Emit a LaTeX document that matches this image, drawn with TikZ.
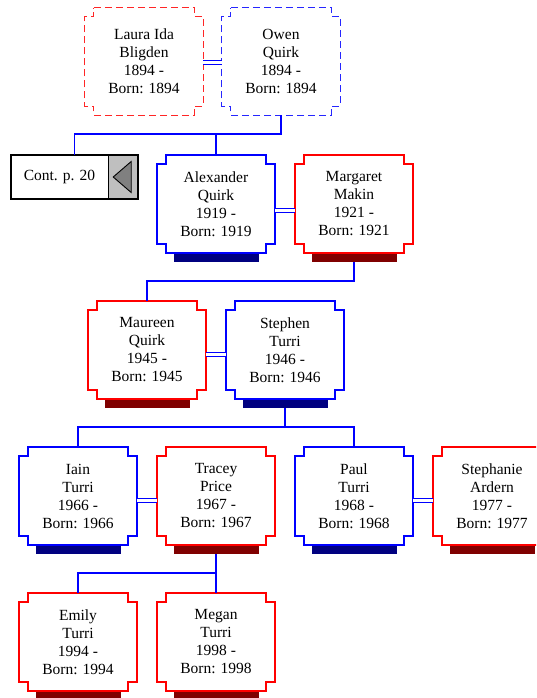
\documentclass[tikz,border=0pt]{standalone}
\usepackage{fontspec}
\setmainfont{Liberation Serif}
\usetikzlibrary{calc}
\definecolor{navybar}{RGB}{0,0,128}
\definecolor{maroonbar}{RGB}{128,0,0}
\tikzset{
  person/.style={rectangle, minimum width=118pt, minimum height=98pt, inner sep=0pt, align=center, font=\fontsize{15.5}{18}\selectfont},
  tallperson/.style={person, minimum height=107pt},
  maleline/.style={draw=blue, line width=1.8pt},
  femaleline/.style={draw=red, line width=1.8pt},
  maledash/.style={draw=blue!85, line width=1.1pt, dash pattern=on 7pt off 4pt},
  femaledash/.style={draw=red!85, line width=1.1pt, dash pattern=on 7pt off 4pt},
  conn/.style={draw=blue, line width=1.6pt},
  marriage/.style={draw=blue, line width=1pt, double=white, double distance=3pt},
}
\newcommand\notchbox[2]{%
  \path[#2] ([xshift=9pt]#1.north west) -- ([xshift=-9pt]#1.north east) -- ++(0,9) -- ++(9,0)
    -- ([yshift=9pt]#1.south east) -- ++(-9,0) -- ++(0,9) -- ([xshift=9pt]#1.south west)
    -- ++(0,-9) -- ++(-9,0) -- ([yshift=-9pt]#1.north west) -- ++(9,0) -- cycle;}
\newcommand\shadowbar[2]{%
  \fill[#2] ([xshift=17pt,yshift=-1pt]#1.south west) rectangle ([xshift=-16pt,yshift=-9pt]#1.south east);}
\begin{document}
\begin{tikzpicture}[x=1pt,y=-1pt]
\useasboundingbox (0,0) rectangle (536,698);
\clip (0,0) rectangle (536,698);

% top couple (dashed)
\node[tallperson] (laura) at (144,61.5) {Laura Ida\\Bligden\\1894 -\\Born: 1894};
\node[tallperson] (owen) at (281,61.5) {Owen\\Quirk\\1894 -\\Born: 1894};
\notchbox{laura}{femaledash}
\notchbox{owen}{maledash}

% continuation box
\node[rectangle, minimum width=127pt, minimum height=44pt, inner sep=0pt, font=\fontsize{15.5}{18}\selectfont] (cont) at (74.5,177) {\makebox[127pt][l]{\makebox[97pt]{Cont. p. 20}}};
\fill[gray!50] ([xshift=-30pt]cont.north east) rectangle (cont.south east);
\draw[black, line width=0.8pt] ([xshift=-30pt]cont.north east) -- ([xshift=-30pt]cont.south east);
\filldraw[fill=gray, draw=black, line width=0.9pt] ([xshift=-25pt]cont.east) -- ([xshift=-7pt,yshift=15.5pt]cont.east) -- ([xshift=-7pt,yshift=-15.5pt]cont.east) -- cycle;
\draw[black, line width=1.5pt] (cont.north west) rectangle (cont.south east);

% generation 2
\node[person] (alex) at (216,204) {Alexander\\Quirk\\1919 -\\Born: 1919};
\node[person] (marg) at (354,204) {Margaret\\Makin\\1921 -\\Born: 1921};
% generation 3
\node[person] (maureen) at (147,350) {Maureen\\Quirk\\1945 -\\Born: 1945};
\node[person] (stephen) at (285,350) {Stephen\\Turri\\1946 -\\Born: 1946};
% generation 4
\node[person] (iain) at (78,496) {Iain\\Turri\\1966 -\\Born: 1966};
\node[person] (tracey) at (216,496) {Tracey\\Price\\1967 -\\Born: 1967};
\node[person] (paul) at (354,496) {Paul\\Turri\\1968 -\\Born: 1968};
\node[person] (steph) at (492,496) {Stephanie\\Ardern\\1977 -\\Born: 1977};
% generation 5
\node[person] (emily) at (78,642) {Emily\\Turri\\1994 -\\Born: 1994};
\node[person] (megan) at (216,642) {Megan\\Turri\\1998 -\\Born: 1998};

\notchbox{alex}{maleline}    \shadowbar{alex}{navybar}
\notchbox{marg}{femaleline}  \shadowbar{marg}{maroonbar}
\notchbox{maureen}{femaleline} \shadowbar{maureen}{maroonbar}
\notchbox{stephen}{maleline} \shadowbar{stephen}{navybar}
\notchbox{iain}{maleline}    \shadowbar{iain}{navybar}
\notchbox{tracey}{femaleline} \shadowbar{tracey}{maroonbar}
\notchbox{paul}{maleline}    \shadowbar{paul}{navybar}
\notchbox{steph}{femaleline} \shadowbar{steph}{maroonbar}
\notchbox{emily}{femaleline} \shadowbar{emily}{maroonbar}
\notchbox{megan}{femaleline} \shadowbar{megan}{maroonbar}

% marriages
\draw[marriage] ([yshift=-1.5pt]laura.east) -- ([yshift=-1.5pt]owen.west);
\draw[marriage] ([yshift=-6pt]alex.east) -- ([yshift=-6pt]marg.west);
\draw[marriage] ([yshift=-4.5pt]maureen.east) -- ([yshift=-4.5pt]stephen.west);
\draw[marriage] ([yshift=-4.5pt]iain.east) -- ([yshift=-4.5pt]tracey.west);
\draw[marriage] ([yshift=-4.5pt]paul.east) -- ([yshift=-4.5pt]steph.west);

% descent lines
\coordinate (j1) at (281,134);
\draw[conn] (owen.south) -- (j1) -| (cont.north);
\draw[conn] (j1 -| alex.north) -- (alex.north);
\coordinate (j2) at (354,281);
\draw[conn] ([yshift=-9pt]marg.south) -- (j2) -| (maureen.north);
\coordinate (j3) at (285,427);
\draw[conn] ([yshift=-9pt]stephen.south) -- (j3);
\draw[conn] (iain.north) |- (j3) -| (paul.north);
\coordinate (j4) at (216,573);
\draw[conn] ([yshift=-9pt]tracey.south) -- (j4);
\draw[conn] (emily.north) |- (j4) -- (megan.north);
\end{tikzpicture}
\end{document}
